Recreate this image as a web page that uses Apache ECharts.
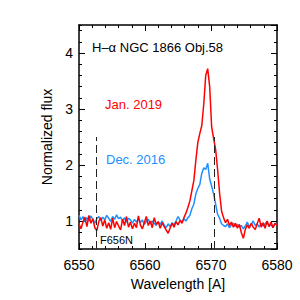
<!DOCTYPE html>
<html>
<head>
<meta charset="utf-8">
<script src="https://cdn.jsdelivr.net/npm/echarts@6/dist/echarts.min.js"></script>
<style>html,body{margin:0;padding:0;background:#fff}#c{width:300px;height:300px}</style>
</head>
<body>
<div id="c"></div>
<script>
var wavelength = [6550.0,6550.3,6550.6,6550.9,6551.2,6551.5,6551.8,6552.1,6552.4,6552.7,
6553.0,6553.3,6553.6,6553.9,6554.2,6554.5,6554.8,6555.1,6555.4,6555.7,
6556.0,6556.3,6556.6,6556.9,6557.2,6557.5,6557.8,6558.1,6558.4,6558.7,
6559.0,6559.3,6559.6,6559.9,6560.2,6560.5,6560.8,6561.1,6561.4,6561.7,
6562.0,6562.3,6562.6,6562.9,6563.2,6563.5,6563.8,6564.1,6564.4,6564.7,
6565.0,6565.3,6565.6,6565.9,6566.2,6566.5,6566.8,6567.1,6567.4,6567.7,
6568.0,6568.3,6568.6,6568.9,6569.2,6569.5,6569.8,6570.1,6570.4,6570.7,
6571.0,6571.3,6571.6,6571.9,6572.2,6572.5,6572.8,6573.1,6573.4,6573.7,
6574.0,6574.3,6574.6,6574.9,6575.2,6575.5,6575.8,6576.1,6576.4,6576.7,
6577.0,6577.3,6577.6,6577.9,6578.2,6578.5,6578.8,6579.1,6579.4,6579.7,6580.0];

var fluxJan2019 = [0.95,0.86,0.98,1.07,0.90,1.10,0.96,1.04,0.88,0.83,
0.99,1.06,0.91,1.02,0.87,0.97,0.85,1.05,0.88,0.99,
0.91,0.84,1.03,0.92,1.08,0.89,0.98,0.86,0.96,0.88,
1.09,0.93,0.86,0.97,1.08,0.92,1.00,0.88,1.06,0.94,
0.99,0.87,0.97,0.90,0.84,0.78,0.87,0.96,0.89,0.99,
0.93,1.01,0.96,1.06,1.14,1.24,1.36,1.54,1.72,2.08,
2.40,2.56,2.70,3.08,3.60,3.72,3.40,2.68,2.47,2.28,
1.92,1.50,1.18,1.06,0.97,1.03,0.92,0.98,0.89,0.96,
0.87,0.94,0.79,0.69,0.85,0.93,0.87,0.96,0.89,0.85,
0.95,1.05,0.89,0.97,0.87,1.00,0.90,0.98,0.88,0.96,0.92];

var fluxDec2016 = [1.10,1.02,1.08,0.98,1.06,1.00,1.09,1.03,0.96,1.04,
1.08,1.01,1.07,1.02,1.10,1.05,0.99,1.08,1.03,1.11,
1.04,1.07,1.00,1.06,0.98,1.05,1.02,0.96,1.03,0.98,
1.04,0.97,1.02,0.94,0.99,1.03,0.95,1.00,0.96,0.92,
0.98,0.94,1.00,0.93,0.88,0.95,0.90,0.97,0.93,1.00,
1.08,1.02,0.98,1.04,1.00,1.06,1.10,1.22,1.30,1.48,
1.58,1.65,1.85,1.95,1.92,2.03,1.75,1.62,1.48,1.30,
1.12,1.05,0.95,0.92,0.90,0.95,0.88,0.93,0.96,0.90,
0.94,0.89,0.92,0.86,0.91,0.98,0.90,0.94,1.00,0.92,
0.95,0.89,0.96,0.91,0.95,0.99,0.90,0.94,0.88,0.96,0.93];

var filterEdges = [6552.6, 6570.45];
var filterRange = [0.5, 2.5];
var xTicks = [6550, 6560, 6570, 6580];
var yTicks = [1, 2, 3, 4];

var titleText = 'H\u2013\u03B1 NGC 1866 Obj.58';
var labelJan = 'Jan. 2019';
var labelDec = 'Dec. 2016';
var labelFilter = 'F656N';

function pairs(xs, ys) { return xs.map(function (x, i) { return [x, ys[i]]; }); }

var FONT = 'Liberation Sans';
function axisLine() { return { show: true, onZero: false, lineStyle: { color: '#000', width: 1.5 } }; }
function tickStyle() { return { color: '#000', width: 1 }; }

function xAx(pos, labels) {
  return {
    type: 'value', position: pos, min: 6550, max: 6580, interval: 10,
    axisLine: axisLine(),
    axisTick: { show: true, inside: true, length: 6, lineStyle: tickStyle() },
    minorTick: { show: true, splitNumber: 5, length: 3, lineStyle: tickStyle() },
    splitLine: { show: false },
    axisLabel: labels ? { show: true, color: '#000', fontSize: 14, fontFamily: FONT, margin: 9,
      formatter: function (v) { return String(Math.round(v)); } } : { show: false },
    name: labels ? 'Wavelength [A]' : '', nameLocation: 'middle', nameGap: 24,
    nameTextStyle: { color: '#000', fontSize: 14, fontFamily: FONT }
  };
}
function yMajor(pos, labels) {
  return {
    type: 'value', position: pos, min: 0.5, max: 4.5, splitNumber: 4,
    axisLine: axisLine(),
    axisTick: { show: true, inside: true, length: 6, lineStyle: tickStyle() },
    splitLine: { show: false },
    axisLabel: labels ? { show: true, color: '#000', fontSize: 14, fontFamily: FONT, margin: 6,
      showMinLabel: false, showMaxLabel: false,
      formatter: function (v) { return yTicks.indexOf(Math.round(v * 1000) / 1000) >= 0 ? String(Math.round(v)) : ''; } } : { show: false },
    name: labels ? 'Normalized flux' : '', nameLocation: 'middle', nameGap: 24,
    nameTextStyle: { color: '#000', fontSize: 14, fontFamily: FONT }
  };
}
function yMinor(pos) {
  return {
    type: 'value', position: pos, min: 0.5, max: 4.5, splitNumber: 20,
    axisLine: { show: false },
    axisTick: { show: true, inside: true, length: 3, lineStyle: tickStyle() },
    splitLine: { show: false },
    axisLabel: { show: false }
  };
}
function txt(text, left, top, color, size) {
  return { text: text, left: left, top: top, padding: 0, itemGap: 0,
    textStyle: { color: color, fontSize: size, fontWeight: 'normal', fontFamily: FONT } };
}

var chart = echarts.init(document.getElementById('c'), null, { renderer: 'svg' });
chart.setOption({
  animation: false,
  grid: { left: 79, right: 23, top: 25, bottom: 51, containLabel: false },
  title: [
    txt(titleText, 92, 41, '#000', 13),
    txt(labelJan, 105, 98, '#ff0000', 13),
    txt(labelDec, 106, 153, '#1e90ff', 13),
    txt(labelFilter, 100, 234, '#000', 11)
  ],
  xAxis: [xAx('bottom', true), xAx('top', false)],
  yAxis: [yMajor('left', true), yMajor('right', false), yMinor('left'), yMinor('right')],
  series: [
    { type: 'line', data: pairs(wavelength, fluxDec2016), showSymbol: false, silent: true,
      lineStyle: { color: '#1e90ff', width: 1.5 } },
    { type: 'line', data: pairs(wavelength, fluxJan2019), showSymbol: false, silent: true,
      lineStyle: { color: '#ff0000', width: 1.5 },
      markLine: { silent: true, symbol: 'none', label: { show: false },
        lineStyle: { color: '#222', width: 1, type: [8, 4] },
        data: filterEdges.map(function (x) { return [{ coord: [x, filterRange[0]] }, { coord: [x, filterRange[1]] }]; }) } }
  ]
});
</script>
</body>
</html>
